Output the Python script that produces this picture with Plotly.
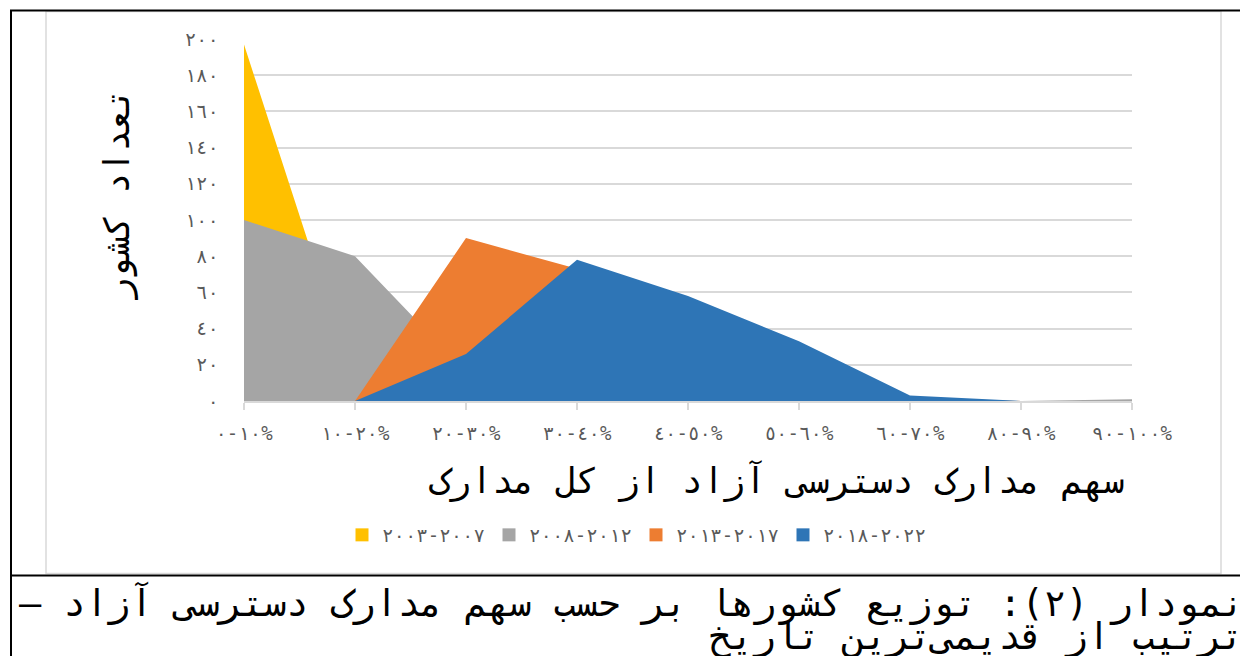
import plotly.graph_objects as go

LRM = "\u200e"
RLM = "\u200f"

categories = ["٠-١٠%", "١٠-٢٠%", "٢٠-٣٠%", "٣٠-٤٠%", "٤٠-٥٠%",
              "٥٠-٦٠%", "٦٠-٧٠%", "٨٠-٩٠%", "٩٠-١٠٠%"]
series_names = ["٢٠٠٣-٢٠٠٧", "٢٠٠٨-٢٠١٢", "٢٠١٣-٢٠١٧", "٢٠١٨-٢٠٢٢"]
s2003_2007 = [197, 8, 1, 0, 0, 0, 0, 0, 0]
s2008_2012 = [100, 80, 16, 2, 1, 0, 0, 0, 1]
s2013_2017 = [0, 0, 90, 73, 40, 18, 2, 0, 0]
s2018_2022 = [0, 0, 26, 78, 58, 33, 3, 0, 0]
y_tickvals = [0, 20, 40, 60, 80, 100, 120, 140, 160, 180, 200]
y_ticktext = ["٠", "٢٠", "٤٠", "٦٠", "٨٠", "١٠٠", "١٢٠", "١٤٠", "١٦٠", "١٨٠", "٢٠٠"]
x_title = "سهم مدارک دسترسی آزاد از کل مدارک"
y_title = "تعداد کشور"
caption_1 = "نمودار (۲): توزیع کشورها بر حسب سهم مدارک دسترسی آزاد –"
caption_2 = "ترتیب از قدیمی‌ترین تاریخ"

colors = ["#FFC000", "#A5A5A5", "#ED7D31", "#2E75B6"]
FONT = "DejaVu Sans Mono"

OFF = 8  # page body margin
W, H = 1248 - OFF, 656 - OFF
L, R, T, B = 244 - OFF, 1132 - OFF, 39 - OFF, 401 - OFF  # plot area in figure pixels


def px(x):
    return (x - OFF - L) / (R - L)


def py(y):
    return (B - (y - OFF)) / (B - T)


def ltr(s):
    # keep visual left-to-right order of digit groups around the dash
    return s.replace("-", LRM + "-" + LRM)


xs = list(range(len(categories)))
fig = go.Figure()
for name, vals, col in zip(series_names, [s2003_2007, s2008_2012, s2013_2017, s2018_2022], colors):
    fig.add_trace(go.Scatter(x=xs, y=vals, mode="lines", line=dict(width=0, color=col),
                             fill="tozeroy", fillcolor=col, showlegend=False, hoverinfo="skip"))
for name, col in zip(series_names, colors):
    fig.add_trace(go.Scatter(x=[None], y=[None], mode="markers", name=ltr(name),
                             marker=dict(symbol="square", size=13, color=col)))

fig.update_layout(
    width=W, height=H,
    margin=dict(l=L, r=W - R, t=T, b=H - B),
    paper_bgcolor="white", plot_bgcolor="white",
    font=dict(family=FONT, color="#595959"),
    showlegend=True,
    legend=dict(orientation="h", x=px(636), xanchor="center", y=py(535), yanchor="middle",
                font=dict(family=FONT, size=19, color="#595959"),
                itemwidth=30, entrywidth=102, entrywidthmode="pixels",
                bgcolor="rgba(0,0,0,0)"),
    xaxis=dict(range=[0, len(categories) - 1], tickvals=xs,
               ticktext=[ltr(c) for c in categories],
               showgrid=False, zeroline=False, showline=True, linecolor="#D9D9D9", linewidth=1.5,
               ticks="outside", ticklen=7, tickcolor="#D9D9D9", tickwidth=1.5, ticklabelstandoff=7,
               tickfont=dict(family=FONT, size=19, color="#595959"), fixedrange=True),
    yaxis=dict(range=[0, 200], tickvals=y_tickvals, ticktext=y_ticktext,
               showgrid=True, gridcolor="#D9D9D9", gridwidth=1.5, zeroline=False,
               showline=False, ticks="", ticklabelstandoff=24,
               tickfont=dict(family=FONT, size=19, color="#595959"), fixedrange=True),
)

shapes = [
    # chart area border (light gray)
    dict(type="rect", xref="paper", yref="paper", x0=px(46), x1=px(1221), y0=py(573.5), y1=py(11.5),
         line=dict(color="#D9D9D9", width=1.5), layer="below"),
    # black frame lines
    dict(type="line", xref="paper", yref="paper", x0=px(10), x1=px(1260), y0=py(10.5), y1=py(10.5),
         line=dict(color="black", width=2)),
    dict(type="line", xref="paper", yref="paper", x0=px(11), x1=px(11), y0=py(10), y1=py(670),
         line=dict(color="black", width=2)),
    dict(type="line", xref="paper", yref="paper", x0=px(10), x1=px(1260), y0=py(575.5), y1=py(575.5),
         line=dict(color="black", width=2)),
]
fig.update_layout(shapes=shapes)

annotations = [
    dict(text=x_title, xref="paper", yref="paper", x=px(776), y=py(480), xanchor="center", yanchor="middle",
         showarrow=False, font=dict(family=FONT, size=35, color="#000000")),
    dict(text=y_title, xref="paper", yref="paper", x=px(117), y=py(194), xanchor="center", yanchor="middle",
         textangle=-90, showarrow=False, font=dict(family=FONT, size=35, color="#000000")),
    dict(text=caption_1 + RLM, xref="paper", yref="paper", x=px(1246), y=py(603), xanchor="right", yanchor="middle",
         showarrow=False, font=dict(family=FONT, size=37, color="#000000")),
    dict(text=caption_2, xref="paper", yref="paper", x=px(1246), y=py(636), xanchor="right", yanchor="middle",
         showarrow=False, font=dict(family=FONT, size=37, color="#000000")),
]
fig.update_layout(annotations=annotations)

fig.write_html("out.html")
